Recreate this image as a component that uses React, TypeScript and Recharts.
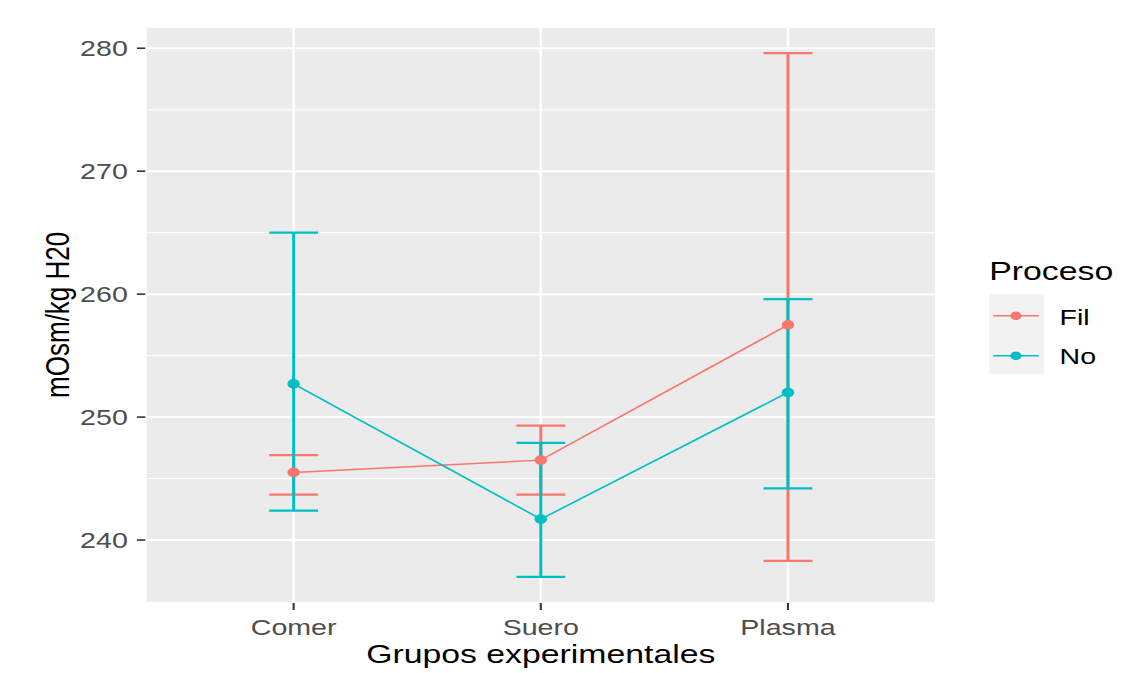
import { LineChart, Line, XAxis, YAxis, CartesianGrid, ErrorBar, Legend } from 'recharts';

// groups on the x axis
const categories = ['Comer', 'Suero', 'Plasma'];

// Proceso = Fil
const filMean = [245.5, 246.5, 257.5];
const filLow = [243.7, 243.7, 238.3];
const filHigh = [246.9, 249.3, 279.6];

// Proceso = No
const noMean = [252.7, 241.7, 252.0];
const noLow = [242.4, 237.0, 244.2];
const noHigh = [265.0, 247.9, 259.6];

const yTicks = [240, 250, 260, 270, 280];
const yMinor = [245, 255, 265, 275];

const FIL = '#F8766D';
const NO = '#00BFC4';
const FONT = '"Liberation Sans", Arial, sans-serif';

// the reference is stretched horizontally, so draw narrower and scale
const STRETCH = 1.3;
const W = 882;
const H = 673;
const LEGEND_W = 120;

const data = categories.map((name, i) => ({
  x: i + 1,
  name,
  fil: filMean[i],
  filErr: [filMean[i] - filLow[i], filHigh[i] - filMean[i]],
  no: noMean[i],
  noErr: [noMean[i] - noLow[i], noHigh[i] - noMean[i]],
}));

const legendItems = [
  { name: 'Fil', color: FIL },
  { name: 'No', color: NO },
];

function ProcesoLegend() {
  return (
    <svg width={LEGEND_W} height={130} style={{ display: 'block', overflow: 'visible', fontFamily: FONT }}>
      <text x={1} y={30} fontSize={26} fill="#000">
        Proceso
      </text>
      <rect x={1} y={44} width={42} height={80} fill="#F2F2F2" />
      {legendItems.map((it, i) => (
        <g key={it.name}>
          <line x1={4} x2={39} y1={65.7 + i * 40} y2={65.7 + i * 40} stroke={it.color} strokeWidth={1.6} />
          <circle cx={21.5} cy={65.7 + i * 40} r={4.3} fill={it.color} />
          <text x={55} y={75 + i * 39} fontSize={22} fill="#000">
            {it.name}
          </text>
        </g>
      ))}
    </svg>
  );
}

export default function App() {
  return (
    <div
      style={{
        position: 'absolute',
        left: 0,
        top: 0,
        width: W,
        height: H,
        background: '#fff',
        transform: `scaleX(${STRETCH})`,
        transformOrigin: '0 0',
        fontFamily: FONT,
      }}
    >
      {/* legend box is measured after the scale, hence the small right margin */}
      <LineChart
        width={W}
        height={H}
        data={data}
        margin={{ top: 26.7, right: 161.8 - LEGEND_W * STRETCH, bottom: 10, left: 51.8 }}
      >
        <CartesianGrid fill="#EBEBEB" stroke="#FFFFFF" strokeWidth={2} />
        <CartesianGrid
          fill="none"
          stroke="#FFFFFF"
          strokeWidth={1.1}
          vertical={false}
          horizontalValues={yMinor}
        />
        <XAxis
          type="number"
          dataKey="x"
          domain={[0.4, 3.6]}
          ticks={[1, 2, 3]}
          tickFormatter={(v: number) => categories[v - 1]}
          axisLine={false}
          tickSize={7}
          tickMargin={9}
          tickLine={{ stroke: '#333333', strokeWidth: 1.6 }}
          tick={{ fill: '#4D4D4D', fontSize: 22, fontFamily: FONT }}
          height={60}
          label={{
            content: (p: any) => (
              <text
                x={p.viewBox.x + p.viewBox.width / 2}
                y={663}
                textAnchor="middle"
                fontSize={26}
                fill="#000"
                fontFamily={FONT}
              >
                Grupos experimentales
              </text>
            ),
          }}
        />
        <YAxis
          type="number"
          domain={[234.88, 281.75]}
          ticks={yTicks}
          allowDataOverflow
          axisLine={false}
          tickSize={6.5}
          tickMargin={7}
          tickLine={{ stroke: '#333333', strokeWidth: 1.6 }}
          tick={{ fill: '#4D4D4D', fontSize: 22, fontFamily: FONT }}
          width={60}
          label={{
            content: (p: any) => {
              const cy = p.viewBox.y + p.viewBox.height / 2;
              return (
                <text
                  x={53}
                  y={cy}
                  transform={`rotate(-90, 53, ${cy})`}
                  textAnchor="middle"
                  fontSize={26}
                  fill="#000"
                  fontFamily={FONT}
                >
                  mOsm/kg H20
                </text>
              );
            },
          }}
        />
        <Legend
          layout="vertical"
          align="right"
          verticalAlign="middle"
          content={<ProcesoLegend />}
          wrapperStyle={{ left: 760, top: 250, width: LEGEND_W, height: 130, right: 'auto' }}
        />
        {/* error bars first, points and lines on top */}
        <Line dataKey="fil" stroke="none" dot={false} activeDot={false} legendType="none" isAnimationActive={false}>
          <ErrorBar dataKey="filErr" direction="y" width={18.8} stroke={FIL} strokeWidth={2.3} isAnimationActive={false} />
        </Line>
        <Line dataKey="no" stroke="none" dot={false} activeDot={false} legendType="none" isAnimationActive={false}>
          <ErrorBar dataKey="noErr" direction="y" width={18.8} stroke={NO} strokeWidth={2.3} isAnimationActive={false} />
        </Line>
        <Line
          dataKey="fil"
          name="Fil"
          stroke={FIL}
          strokeWidth={1.5}
          dot={{ r: 4.8, fill: FIL, stroke: FIL, strokeWidth: 0 }}
          activeDot={false}
          isAnimationActive={false}
        />
        <Line
          dataKey="no"
          name="No"
          stroke={NO}
          strokeWidth={1.5}
          dot={{ r: 4.8, fill: NO, stroke: NO, strokeWidth: 0 }}
          activeDot={false}
          isAnimationActive={false}
        />
      </LineChart>
    </div>
  );
}
